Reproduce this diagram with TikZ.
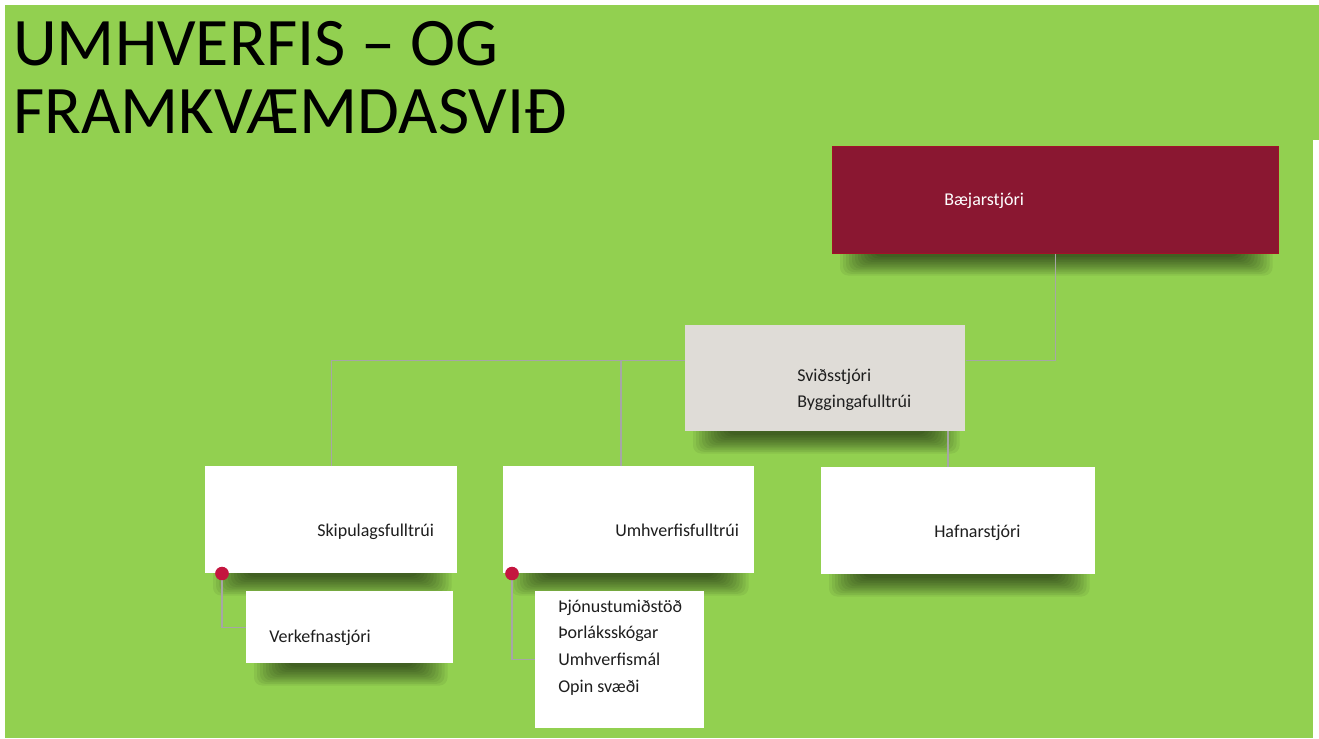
\documentclass[tikz,border=0pt]{standalone}
\usepackage{fontspec}
\setmainfont{Carlito}
\usetikzlibrary{positioning,calc}
\pgfdeclarelayer{bg}
\pgfdeclarelayer{shd}
\pgfsetlayers{bg,shd,main}
\definecolor{slideGreen}{HTML}{92D050}
\definecolor{mayorRed}{HTML}{8A1731}
\definecolor{headGray}{HTML}{DFDCD7}
\definecolor{lineGray}{HTML}{A6A6A6}
\definecolor{dotRed}{HTML}{C4163F}
\definecolor{txtDark}{HTML}{1E1E1E}
\tikzstyle{bx}=[rectangle,inner sep=0pt,anchor=north west]
\tikzstyle{bxW}=[bx,fill=white]
\tikzstyle{bxR}=[bx,fill=mayorRed,draw=mayorRed!80!red]
\tikzstyle{bxG}=[bx,fill=headGray]
\tikzstyle{lbl}=[anchor=base west,inner sep=0pt,font=\fontsize{13.5}{15}\selectfont,text=txtDark]
\tikzstyle{ttl}=[anchor=base west,inner sep=0pt,font=\fontsize{51}{60}\selectfont,text=black]
\tikzstyle{conn}=[draw=lineGray,line width=0.8pt]
\tikzstyle{dot}=[circle,fill=dotRed,minimum size=10pt,inner sep=0pt]
\tikzstyle{shade}=[fill=black,opacity=0.06,rounded corners=6pt]

\begin{document}
\begin{tikzpicture}[x=0.75pt,y=-0.75pt]
                \useasboundingbox (0,0) rectangle (1319,738);
                \begin{pgfonlayer}{bg}
                \fill[white] (0,0) rectangle (1319,738);
                \fill[slideGreen] (5,5) rectangle (1319,140);
                \fill[slideGreen] (5,140) rectangle (1313,738);
                \end{pgfonlayer}

                % title
                \node[ttl] (ttlA) at (13,66) {UMHVERFIS – OG};
                \node[ttl] (ttlB) at (13,133) {FRAMKVÆMDASVIÐ};

                % boxes
                \node[bxR,minimum width=446*0.75pt,minimum height=107*0.75pt] (baej) at (832,146) {};
                \node[bxG,minimum width=280*0.75pt,minimum height=106*0.75pt] (svid) at (685,325) {};
                \node[bxW,minimum width=252*0.75pt,minimum height=107*0.75pt] (skip) at (205,466) {};
                \node[bxW,minimum width=251*0.75pt,minimum height=107*0.75pt] (umhv) at (503,466) {};
                \node[bxW,minimum width=274*0.75pt,minimum height=107*0.75pt] (hafn) at (821,467) {};
                \node[bxW,minimum width=207*0.75pt,minimum height=72*0.75pt] (verk) at (246,591) {};
                \node[bxW,minimum width=169*0.75pt,minimum height=137*0.75pt] (list) at (535,591) {};

                % shadows under the boxes
                \begin{pgfonlayer}{shd}
                \foreach \b in {baej,svid,skip,umhv,hafn,verk}
                  \foreach \k in {0,...,11}
                    \fill[shade] ($(\b.south west)+(8+\k*3,-8)$) rectangle ($(\b.south east)+(-6-\k*3,22-\k*1.7)$);
                \end{pgfonlayer}

                % texts
                \node[lbl,text=white] (tBaej) at (944,205) {Bæjarstjóri};
                \node[lbl] (tSvid) at (797,381) {Sviðsstjóri};
                \node[lbl] (tBygg) at (797,407) {Byggingafulltrúi};
                \node[lbl] (tSkip) at (317,536) {Skipulagsfulltrúi};
                \node[lbl] (tUmhv) at (615,536) {Umhverfisfulltrúi};
                \node[lbl] (tHafn) at (934,537) {Hafnarstjóri};
                \node[lbl] (tVerk) at (269,642) {Verkefnastjóri};
                \node[lbl] (tL1) at (558,612) {Þjónustumiðstöð};
                \node[lbl] (tL2) at (558,638) {Þorláksskógar};
                \node[lbl] (tL3) at (558,665) {Umhverfismál};
                \node[lbl] (tL4) at (558,692) {Opin svæði};

                % connectors
                \coordinate (jU) at (621,360);
                \coordinate (jH) at (948,431);
                \draw[conn] (baej.south) |- ([yshift=18*0.75pt]svid.east);
                \draw[conn] ([yshift=18*0.75pt]svid.west) -| (skip.north);
                \draw[conn] (jU) -- (jU |- umhv.north);
                \begin{pgfonlayer}{shd}
                \draw[conn] (jH) -- (jH |- hafn.north);
                \end{pgfonlayer}

                \node[dot] (d1) at ([xshift=17*0.75pt]skip.south west) {};
                \node[dot] (d2) at ([xshift=9*0.75pt]umhv.south west) {};
                \draw[conn] (d1) |- (verk.west);
                \draw[conn] (d2) |- (list.west);
                \node[dot] at (d1) {};
                \node[dot] at (d2) {};

\end{tikzpicture}
\end{document}
